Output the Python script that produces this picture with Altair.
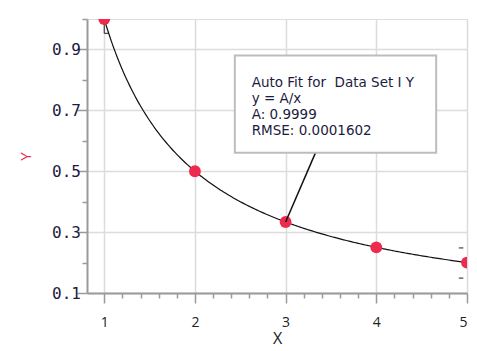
import altair as alt
import pandas as pd

# data
xs = [1, 2, 3, 4, 5]
ys = [1.0, 0.5, 0.3333, 0.25, 0.2]
fit_A = 0.9999
note_lines = ["Auto Fit for\u00a0 Data Set I Y", "y = A/x", "A: 0.9999", "RMSE: 0.0001602"]
x_ticks = [round(1 + 0.2 * i, 1) for i in range(21)]
y_ticks = [round(0.1 + 0.1 * i, 1) for i in range(10)]

RED = "#ee2a4e"
NAVY = "#1c1c40"
AX = "#9a9a9a"

xscale = alt.Scale(domain=[0.81, 5], nice=False, zero=False)
yscale = alt.Scale(domain=[0.1, 1.0], nice=False, zero=False)

XMAJ = "abs(datum.value - round(datum.value)) < 0.01"
YMAJ = "round(datum.value*10) % 2 == 1"

xaxis = alt.Axis(
    values=x_ticks, title="X", labelOverlap=False,
    labelExpr=f"{XMAJ} ? format(datum.value, 'd') : ''",
    tickSize=10,
    tickDash={"condition": {"test": XMAJ, "value": [1, 0]}, "value": [5, 20]},
    gridOpacity={"condition": {"test": XMAJ, "value": 1}, "value": 0},
    grid=True, gridColor="#dcdcdc", gridWidth=1.5,
    domainColor=AX, domainWidth=2, tickColor=AX, tickWidth=1.5,
    labelFont="Open Sans", labelFontSize=14, labelColor="#222", labelPadding=12,
    titleFont="Open Sans", titleFontSize=16, titleFontWeight="normal", titleColor="#222", titlePadding=1,
)
yaxis = alt.Axis(
    values=y_ticks, title="Y", labelOverlap=False,
    labelExpr=f"{YMAJ} ? format(datum.value, '.1f') : ''",
    tickSize=10,
    tickDash={"condition": {"test": YMAJ, "value": [1, 0]}, "value": [5, 20]},
    gridOpacity={"condition": {"test": YMAJ, "value": 1}, "value": 0},
    grid=True, gridColor="#dcdcdc", gridWidth=1.5,
    domainColor=AX, domainWidth=2, tickColor=AX, tickWidth=1.5,
    labelFont="DejaVu Sans Mono", labelFontSize=16, labelColor=NAVY,
    labelPadding=-3.5, labelAlign="right",
    titleFont="Open Sans", titleFontSize=15, titleFontWeight="normal", titleColor=RED, titlePadding=18,
)

X = alt.X("x:Q", scale=xscale, axis=xaxis)
Y = alt.Y("y:Q", scale=yscale, axis=yaxis)

pts = pd.DataFrame({"x": xs, "y": ys})

curve = alt.Chart(alt.sequence(1, 5.001, 0.02, as_="x")).transform_calculate(
    y=f"{fit_A}/datum.x"
).mark_line(color="#111", strokeWidth=1.2, clip=True).encode(x=X, y=Y)

points = alt.Chart(pts).mark_circle(color=RED, opacity=1, size=140, clip=True).encode(x=X, y=Y)

# small error-bar-like marks
eb = pd.DataFrame({"x": [1.0, 1.0, 4.91, 4.91], "x2": [1.0, 1.05, 4.96, 4.96],
                   "y": [1.0, 0.953, 0.248, 0.149], "y2": [0.953, 0.953, 0.248, 0.149]})
ebars = alt.Chart(eb).mark_rule(color="#222", strokeWidth=1, clip=True).encode(
    x=X, x2="x2:Q", y=Y, y2="y2:Q"
)

conn = pd.DataFrame({"x": [3.0], "x2": [3.33], "y": [0.3333], "y2": [0.561]})
connector = alt.Chart(conn).mark_rule(color="#111", strokeWidth=1.5).encode(
    x=X, x2="x2:Q", y=Y, y2="y2:Q"
)

box = pd.DataFrame({"x": [2.44], "x2": [4.66], "y": [0.88], "y2": [0.561]})
boxmark = alt.Chart(box).mark_rect(fill="white", stroke="#bdbdbd", strokeWidth=2).encode(
    x=X, x2="x2:Q", y=Y, y2="y2:Q"
)

note = pd.DataFrame({"x": [2.626], "y": [0.79], "t": ["\n".join(note_lines)]})
notetext = alt.Chart(note).mark_text(
    align="left", baseline="middle", font="DejaVu Sans", fontSize=13.5, color=NAVY,
    lineBreak="\n", lineHeight=16
).encode(x=X, y=Y, text="t:N")

frame = alt.Chart(pts).mark_rect(fill=None, stroke="#d4d4d4", strokeWidth=2, clip=False).encode(
    x=alt.value(-80), x2=alt.value(420), y=alt.value(-14), y2=alt.value(360)
).transform_filter("datum.x == 1")

chart = alt.layer(frame, curve, ebars, points, connector, boxmark, notetext).properties(
    width=380, height=274,
    autosize=alt.AutoSizeParams(type="none"),
    padding={"left": 79, "top": 11, "right": 2, "bottom": 60},
).configure_view(stroke=None).configure(background="white")

chart.save("out.html", embed_options={"renderer": "svg", "actions": False})
